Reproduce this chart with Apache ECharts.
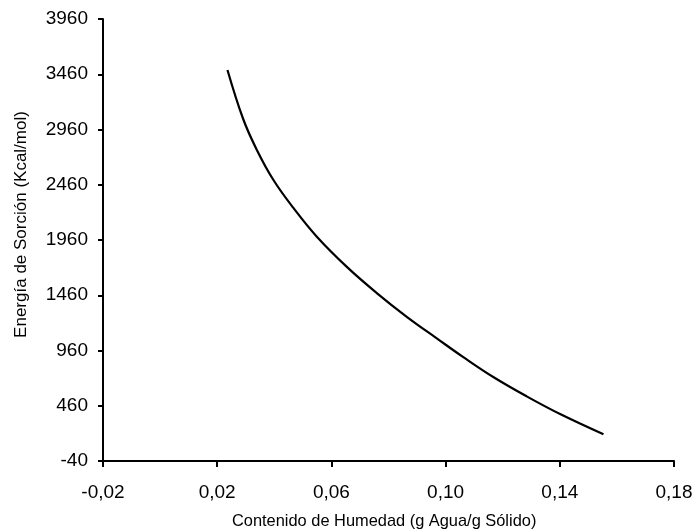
<!DOCTYPE html>
<html>
<head>
<meta charset="utf-8">
<script src="https://cdn.jsdelivr.net/npm/echarts@6/dist/echarts.min.js"></script>
<style>
  html, body { margin: 0; padding: 0; background: #ffffff; }
  #chart { width: 697px; height: 531px; }
</style>
</head>
<body>
<div id="chart"></div>
<script>
// Moisture content (g water / g solid)
const moisture = [0.0236, 0.0291, 0.0338, 0.0397, 0.0467, 0.0549, 0.0656, 0.0759, 0.0864, 0.0969, 0.1062, 0.1167, 0.1284, 0.1401, 0.1553];
// Sorption energy (Kcal/mol)
const energy = [3499, 3055, 2780, 2503, 2250, 1990, 1712, 1480, 1265, 1070, 900, 720, 545, 385, 202];

const xTitle = 'Contenido de Humedad (g Agua/g Sólido)';
const yTitle = 'Energía de Sorción (Kcal/mol)';

const font = '"Liberation Sans", Arial, sans-serif';
const chart = echarts.init(document.getElementById('chart'), null, { renderer: 'canvas' });

chart.setOption({
  animation: false,
  backgroundColor: '#ffffff',
  grid: { left: 103, right: 23, top: 19, bottom: 70, containLabel: false },
  xAxis: {
    type: 'value',
    min: -0.02,
    max: 0.18,
    interval: 0.04,
    splitLine: { show: false },
    axisLine: { onZero: false, lineStyle: { color: '#000', width: 2 } },
    axisTick: { show: true, inside: false, length: 6, lineStyle: { color: '#000', width: 2 } },
    axisLabel: {
      color: '#000', fontFamily: font, fontSize: 19, margin: 22,
      formatter: v => v.toFixed(2).replace('.', ',')
    }
  },
  yAxis: {
    type: 'value',
    min: -40,
    max: 3960,
    interval: 500,
    splitLine: { show: false },
    axisLine: { onZero: false, lineStyle: { color: '#000', width: 2 } },
    axisTick: { show: true, inside: false, length: 5, lineStyle: { color: '#000', width: 2 } },
    axisLabel: {
      color: '#000', fontFamily: font, fontSize: 19, margin: 15,
      formatter: v => String(Math.round(v))
    }
  },
  series: [{
    type: 'line',
    data: moisture.map((x, i) => [x, energy[i]]),
    smooth: 0.4,
    showSymbol: false,
    lineStyle: { color: '#000', width: 2.2 }
  }],
  graphic: [
    {
      type: 'text',
      left: 232, top: 513,
      style: { text: xTitle, fill: '#000', font: '16.4px ' + font }
    },
    {
      type: 'text',
      x: 13, y: 224.5,
      rotation: Math.PI / 2,
      style: { text: yTitle, fill: '#000', font: '17px ' + font, align: 'center', verticalAlign: 'top' }
    }
  ]
});
</script>
</body>
</html>
